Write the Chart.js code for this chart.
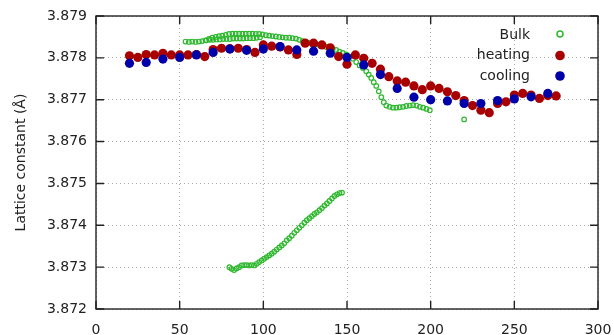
<!DOCTYPE html>
<html>
<head>
<meta charset="utf-8">
<script src="https://cdn.jsdelivr.net/npm/chart.js@4"></script>
<style>
  body { margin: 0; background: #fff; }
</style>
</head>
<body>
<canvas id="latticeChart" width="614" height="335"></canvas>
<script>
// temperatura (x) y constante de red (y) de cada serie
const bulkT = [
    53.5, 55.5, 57.5, 59.5, 61.5, 63.5, 65.5, 67.5, 69.5, 71.5, 73.5, 75.5, 77.5, 79.5,
    81.5, 83.5, 85.5, 87.5, 89.5, 91.5, 93.5, 95.5, 97.5, 99.5, 101.5, 103.5, 105.5,
    107.5, 109.5, 111.5, 113.5, 115.5, 117.5, 119.5, 121.5, 123.5, 125.5, 127.5, 129.5,
    131.5, 133.5, 135.5, 137.5, 139.5, 141.5, 143.5, 145.5, 147.5, 149.5, 151.5, 153.5,
    155.5, 157.5, 159.5, 161.5, 163, 164.5, 166, 167.5, 169, 170.5, 172, 173.5, 175.5,
    177.5, 179.5, 181.5, 183.5, 185.5, 187.5, 189.5, 191.5, 193.5, 195.5, 197.5, 199.5,
    220,
    66, 68, 70, 72, 74, 76, 78, 80, 82, 84, 86, 88, 90, 92, 94, 96, 98,
    79.7, 81, 82.5, 84, 85.5, 87, 88.5, 90, 91.5, 93, 94.5, 96, 97.5, 99, 100.5, 102,
    103.5, 105, 106.5, 108, 109.5, 111, 112.5, 114, 115.5, 117, 118.5, 120, 121.5, 123,
    124.5, 126, 127.5, 129, 130.5, 132, 133.5, 135, 136.5, 138, 139.5, 141, 142.5, 144,
    145.5, 147
];
const bulkA = [
    3.87839, 3.87838, 3.87839, 3.87838, 3.87839, 3.87840, 3.87842, 3.87845, 3.87848, 3.87850, 3.87852, 3.87853, 3.87855, 3.87857,
    3.87858, 3.87858, 3.87858, 3.87858, 3.87858, 3.87858, 3.87858, 3.87857, 3.87857, 3.87856, 3.87854, 3.87853, 3.87852,
    3.87851, 3.87850, 3.87849, 3.87848, 3.87848, 3.87847, 3.87846, 3.87843, 3.87840, 3.87838, 3.87836, 3.87834,
    3.87833, 3.87831, 3.87829, 3.87826, 3.87823, 3.87821, 3.87819, 3.87815, 3.87812, 3.87808, 3.87803, 3.87798,
    3.87790, 3.87782, 3.87776, 3.87768, 3.87760, 3.87752, 3.87742, 3.87733, 3.87720, 3.87706, 3.87694, 3.87686, 3.87683,
    3.87681, 3.87681, 3.87682, 3.87683, 3.87685, 3.87686, 3.87687, 3.87686, 3.87683, 3.87681, 3.87678, 3.87675,
    3.87653,
    3.87842, 3.87843, 3.87843, 3.87844, 3.87844, 3.87845, 3.87845, 3.87845, 3.87846, 3.87846, 3.87846, 3.87846, 3.87847, 3.87847, 3.87847, 3.87848, 3.87849,
    3.87300, 3.87296, 3.87293, 3.87297, 3.87300, 3.87304, 3.87305, 3.87305, 3.87304, 3.87305, 3.87304, 3.87308, 3.87312, 3.87316, 3.87320, 3.87324,
    3.87328, 3.87332, 3.87337, 3.87342, 3.87347, 3.87352, 3.87357, 3.87364, 3.87369, 3.87375, 3.87382, 3.87388, 3.87394, 3.87400,
    3.87406, 3.87412, 3.87417, 3.87422, 3.87427, 3.87431, 3.87436, 3.87441, 3.87447, 3.87452, 3.87458, 3.87464, 3.87470, 3.87474,
    3.87477, 3.87478
];

const heatT = [20, 25, 30, 35, 40, 45, 50, 55, 60, 65, 70, 75, 80, 85, 90, 95, 100, 105, 110, 115,
    120, 125, 130, 135, 140, 145, 150, 155, 160, 165, 170, 175, 180, 185, 190, 195, 200, 205,
    210, 215, 220, 225, 230, 235, 240, 245, 250, 255, 260, 265, 270, 275];
const heatA = [3.87805, 3.87801, 3.87808, 3.87807, 3.87811, 3.87807, 3.87807, 3.87807, 3.87808, 3.87803,
    3.87820, 3.87823, 3.87822, 3.87823, 3.87820, 3.87813, 3.87831, 3.87828, 3.87826, 3.87819,
    3.87808, 3.87835, 3.87835, 3.87831, 3.87824, 3.87803, 3.87785, 3.87807, 3.87799, 3.87787,
    3.87773, 3.87755, 3.87745, 3.87742, 3.87733, 3.87724, 3.87733, 3.87727, 3.87719, 3.87710,
    3.87698, 3.87686, 3.87675, 3.87669, 3.87691, 3.87695, 3.87711, 3.87715, 3.87711, 3.87703,
    3.87710, 3.87709];

const coolT = [20, 30, 40, 50, 60, 70, 80, 90, 100, 110, 120, 130, 140, 150, 160, 170, 180,
    190, 200, 210, 220, 230, 240, 250, 260, 270];
const coolA = [3.87787, 3.87789, 3.87797, 3.87801, 3.87807, 3.87813, 3.87821, 3.87818, 3.87821,
    3.87827, 3.87819, 3.87816, 3.87811, 3.87801, 3.87783, 3.87760, 3.87727, 3.87706, 3.87700,
    3.87697, 3.87691, 3.87691, 3.87698, 3.87702, 3.87707, 3.87715];

const xTicks = [0, 50, 100, 150, 200, 250, 300];
const yTicks = [3.872, 3.873, 3.874, 3.875, 3.876, 3.877, 3.878, 3.879];

const toPoints = (xs, ys) => xs.map((x, i) => ({ x: x, y: ys[i] }));

const fuente = 'DejaVu Sans';

// marco con marcas hacia dentro, al estilo gnuplot
const marco = {
    id: 'marco',
    beforeDatasetsDraw(chart) {
        const { ctx, chartArea: a, scales } = chart;
        ctx.save();
        ctx.strokeStyle = '#222';
        ctx.lineWidth = 1.4;
        ctx.beginPath();
        xTicks.forEach(v => {
            const px = scales.x.getPixelForValue(v);
            ctx.moveTo(px, a.bottom); ctx.lineTo(px, a.bottom - 8);
            ctx.moveTo(px, a.top); ctx.lineTo(px, a.top + 8);
        });
        yTicks.forEach(v => {
            const py = scales.y.getPixelForValue(v);
            ctx.moveTo(a.left, py); ctx.lineTo(a.left + 8, py);
            ctx.moveTo(a.right, py); ctx.lineTo(a.right - 8, py);
        });
        ctx.stroke();
        ctx.strokeRect(a.left, a.top, a.right - a.left, a.bottom - a.top);
        ctx.restore();
    }
};

// leyenda dentro del área, texto a la izquierda y símbolo a la derecha
const leyenda = {
    id: 'leyenda',
    afterDraw(chart) {
        const { ctx, chartArea: a } = chart;
        const orden = [0, 1, 2];
        ctx.save();
        ctx.font = '14px ' + fuente;
        ctx.textAlign = 'right';
        ctx.textBaseline = 'middle';
        orden.forEach((idx, i) => {
            const ds = chart.data.datasets[idx];
            const y = a.top + 19 + i * 20.5;
            ctx.fillStyle = '#222';
            ctx.fillText(ds.label, a.right - 68, y);
            ctx.beginPath();
            if (idx === 0) {
                ctx.arc(a.right - 38, y - 1, 3, 0, Math.PI * 2);
                ctx.lineWidth = 1.5;
                ctx.strokeStyle = ds.borderColor;
                ctx.stroke();
            } else {
                ctx.arc(a.right - 38, y, 4.8, 0, Math.PI * 2);
                ctx.fillStyle = ds.backgroundColor;
                ctx.fill();
            }
        });
        ctx.restore();
    }
};

const ctx = document.getElementById('latticeChart').getContext('2d');
const latticeChart = new Chart(ctx, {
    type: 'scatter',
    data: {
        datasets: [
            {
                label: 'Bulk',
                data: toPoints(bulkT, bulkA),
                borderColor: '#2fb82f',
                backgroundColor: 'rgba(0,0,0,0)',
                pointRadius: 2.3,
                borderWidth: 1.2,
                order: 3
            },
            {
                label: 'heating',
                data: toPoints(heatT, heatA),
                borderColor: '#a80000',
                backgroundColor: '#a80000',
                pointRadius: 4.6,
                borderWidth: 0,
                order: 2
            },
            {
                label: 'cooling',
                data: toPoints(coolT, coolA),
                borderColor: '#0000a8',
                backgroundColor: '#0000a8',
                pointRadius: 4.6,
                borderWidth: 0,
                order: 1
            }
        ]
    },
    options: {
        responsive: false,
        animation: false,
        layout: {
            padding: { top: 16, right: 16, bottom: 0, left: 0 }
        },
        plugins: {
            legend: { display: false },
            tooltip: { enabled: false }
        },
        scales: {
            x: {
                type: 'linear',
                min: 0,
                max: 300,
                afterFit: s => { s.height = 26; s.paddingLeft = 0; s.paddingRight = 0; },
                afterBuildTicks: s => { s.ticks = xTicks.map(v => ({ value: v })); },
                grid: { color: '#aaa', lineWidth: 1, drawTicks: false },
                border: { display: false, dash: [1, 3] },
                ticks: {
                    padding: 13,
                    color: '#222',
                    font: { size: 14, family: fuente }
                }
            },
            y: {
                type: 'linear',
                min: 3.872,
                max: 3.879,
                afterFit: s => { s.width = 96; s.paddingTop = 0; s.paddingBottom = 0; },
                afterBuildTicks: s => { s.ticks = yTicks.map(v => ({ value: v })); },
                grid: { color: '#aaa', lineWidth: 1, drawTicks: false },
                border: { display: false, dash: [1, 3] },
                ticks: {
                    padding: 9,
                    color: '#222',
                    font: { size: 14, family: fuente },
                    callback: v => Number(v).toFixed(3)
                },
                title: {
                    display: true,
                    text: 'Lattice constant (Å)',
                    color: '#222',
                    padding: { top: 13, bottom: 0 },
                    font: { size: 14, family: fuente }
                }
            }
        }
    },
    plugins: [marco, leyenda]
});
</script>
</body>
</html>
